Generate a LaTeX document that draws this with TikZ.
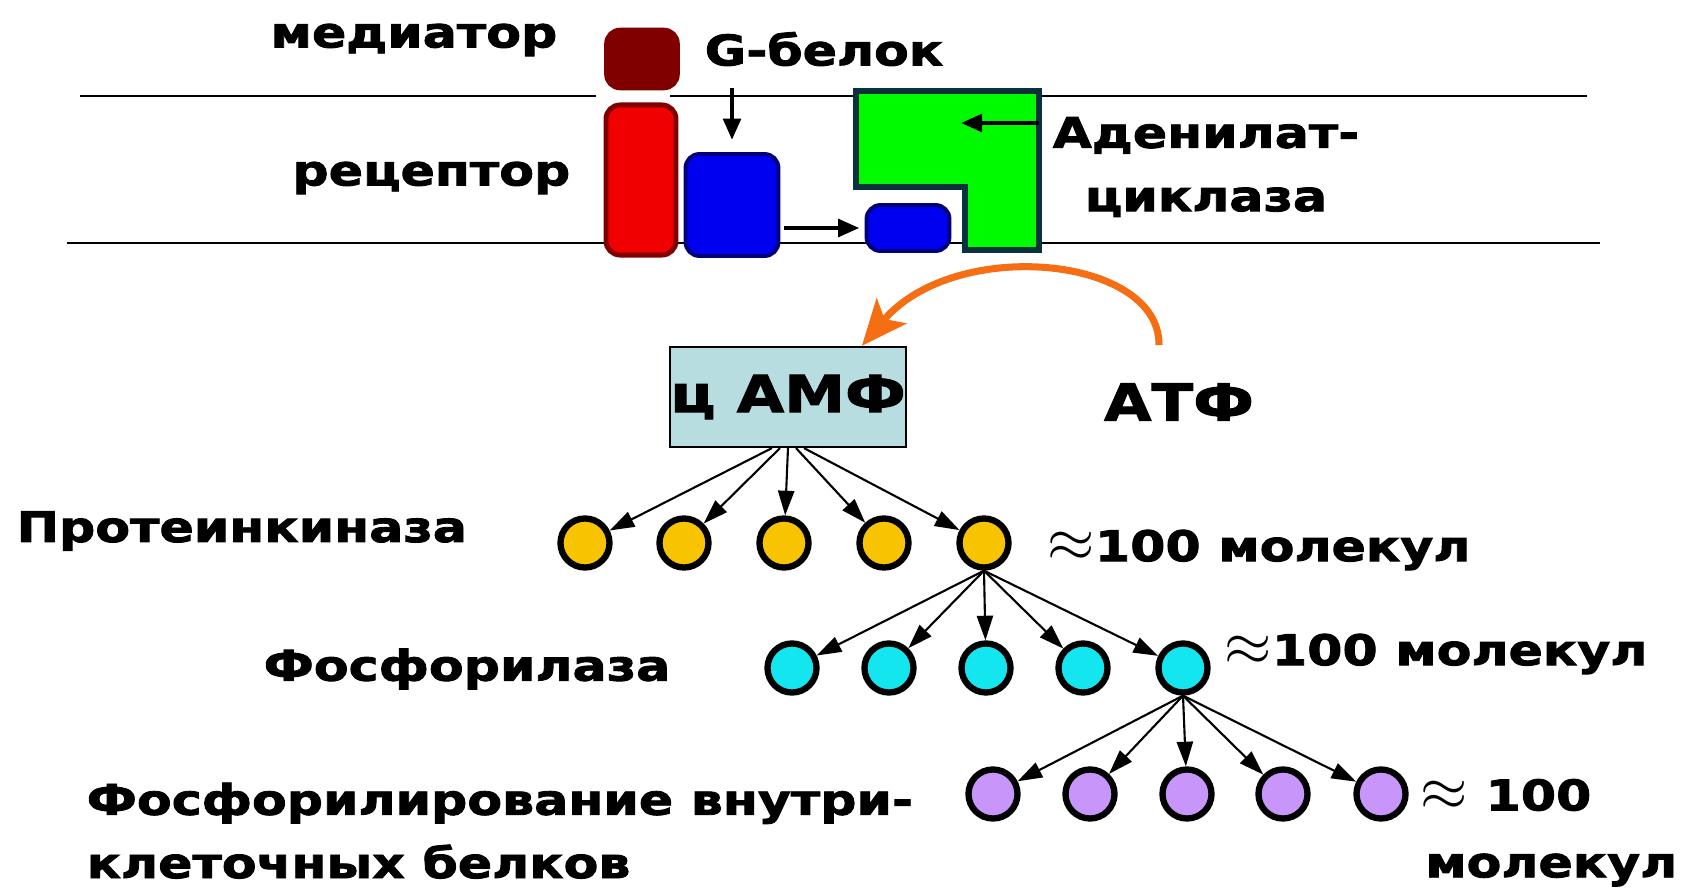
\documentclass[tikz,border=0pt]{standalone}
\usepackage{fontspec}
\newfontfamily\blackfont{DejaVu Sans Bold}[FakeStretch=1.2, FakeBold=2]
\usepackage{tikz}
\usetikzlibrary{arrows.meta,positioning,calc,shapes.geometric}
\definecolor{mediatorRed}{RGB}{128,0,0}
\definecolor{receptorRed}{RGB}{240,0,0}
\definecolor{gBlue}{RGB}{0,0,240}
\definecolor{gBlueDark}{RGB}{0,0,120}
\definecolor{cyclaseGreen}{RGB}{0,250,0}
\definecolor{cyclaseEdge}{RGB}{10,50,60}
\definecolor{campFill}{RGB}{183,221,224}
\definecolor{atpOrange}{RGB}{245,110,20}
\definecolor{kinaseGold}{RGB}{248,195,0}
\definecolor{phosCyan}{RGB}{20,230,240}
\definecolor{targetLilac}{RGB}{200,150,250}
\newcommand{\approxsign}{{\fontsize{17}{17}\selectfont$\approx$}}

\tikzset{
  lbl/.style={font=\blackfont\fontsize{12}{18}\selectfont, inner sep=0pt},
  biglbl/.style={font=\blackfont\fontsize{14.5}{17}\selectfont, inner sep=0pt},
  mol/.style={circle, draw=black, line width=1.8pt, minimum size=0.49cm, inner sep=0pt},
  fan/.style={-{Triangle[length=7pt,width=4.6pt]}, line width=0.6pt},
  sig/.style={-{Triangle[length=6pt,width=5pt]}, line width=1.1pt},
}

\begin{document}
\begin{tikzpicture}[x=0.01cm, y=-0.01cm]
  \useasboundingbox (0,0) rectangle (1684,888);

  % Membrane
  \draw[line width=0.6pt] (80,96) -- (596,96) (670,96) -- (1587,96);
  \draw[line width=0.6pt] (67,243) -- (1600,243);

  % Receptor, G-protein and cyclase
  \node[fill=mediatorRed, draw=mediatorRed, line width=1pt, rounded corners=4pt,
    minimum width=0.72cm, minimum height=0.59cm] (mediator) at (642,59) {};
  \node[fill=receptorRed, draw=mediatorRed, line width=1.4pt, rounded corners=4pt,
    minimum width=0.70cm, minimum height=1.50cm] (receptor) at (641,180) {};
  \node[fill=gBlue, draw=gBlueDark, line width=1.1pt, rounded corners=4pt,
    minimum width=0.93cm, minimum height=1.02cm] (gprot) at (732,205) {};
  \node[fill=gBlue, draw=gBlueDark, line width=1.1pt, rounded corners=4pt,
    minimum width=0.83cm, minimum height=0.46cm] (galpha) at (908,228) {};
  \draw[fill=cyclaseGreen, draw=cyclaseEdge, line width=1.5pt]
    (856,91) -- (1039,91) -- (1039,250) -- (965,250) -- (965,187) -- (856,187) -- cycle;
  \coordinate (acEdge) at (1039,123);
  \coordinate (acSite) at (961,123);

  % Labels of the membrane part
  \node[lbl, anchor=east] (mediatorlbl) at (558,40) {медиатор};
  \node[lbl] (gprotlbl) at (824,49) {G-белок};
  \node[lbl, anchor=east] (receptorlbl) at (571,178) {рецептор};
  \node[lbl, align=center] (aclbl) at (1206,167) {Аденилат-\\циклаза};

  \draw[sig, shorten <=6pt] (gprotlbl.south -| gprot.north) -- ([yshift=3.5pt]gprot.north);
  \draw[sig] ([xshift=1pt]gprot.east |- galpha) -- ([xshift=-1.5pt]galpha.west);
  \draw[sig] (acEdge) -- (acSite);

  % cAMP and ATP
  \node[fill=campFill, draw=black, line width=0.6pt, minimum width=2.33cm,
    minimum height=1.0cm, biglbl] (camp) at (788,397) {ц АМФ};
  \node[biglbl] (atp) at (1179,402) {АТФ};
  \draw[atpOrange, line width=2pt, -{Stealth[length=13pt,width=11pt,inset=3pt]}]
    (1159,345) .. controls (1160,256) and (955,236) .. ($(camp.north east)+(-45,0)$);

  % Cascade: kinase, phosphorylase, target proteins
  \foreach \i/\x in {1/585,2/684,3/784,4/884,5/984}
    \node[mol, fill=kinaseGold] (k\i) at (\x,543) {};
  \foreach \i/\x in {1/792,2/889,3/986,4/1083,5/1183}
    \node[mol, fill=phosCyan] (p\i) at (\x,668) {};
  \foreach \i/\x in {1/993,2/1090,3/1187,4/1283,5/1381}
    \node[mol, fill=targetLilac] (t\i) at (\x,794) {};

  \foreach \i in {1,...,5} {
    \draw[fan] ($(camp.south)+({(\i-3)*8},0)$) -- (k\i);
    \draw[fan] (k5.south) -- (p\i);
    \draw[fan] (p5.south) -- (t\i);
  }

  \node[lbl, anchor=west] (kinlbl) at (16,531) {Протеинкиназа};
  \node[lbl, anchor=west] (kincount) at (1047,550) {\approxsign100 молекул};
  \node[lbl, anchor=east] (phoslbl) at (671,669) {Фосфорилаза};
  \node[lbl, anchor=west] (phoscount) at (1224,654) {\approxsign100 молекул};
  \node[lbl, anchor=north west, align=left] (targetlbl) at (86,782)
    {Фосфорилирование внутри-\\клеточных белков};
  \node[lbl, anchor=west] (targetcount) at (1420,795) {\approxsign{} 100};
  \node[lbl, anchor=east] (targetunit) at (1678,870) {молекул};
\end{tikzpicture}
\end{document}
